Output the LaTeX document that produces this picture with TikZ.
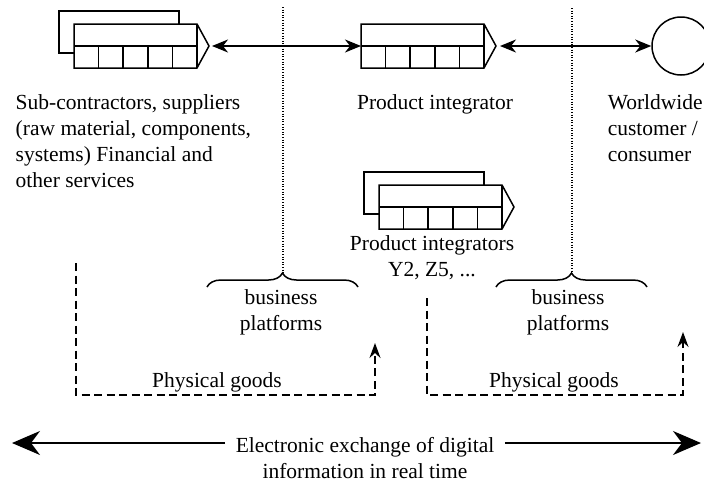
\documentclass[tikz,border=0pt]{standalone}
\usepackage{fontspec}
\setmainfont{Liberation Serif}
\usetikzlibrary{arrows.meta,decorations.pathreplacing}
\newcommand\chainbody{%
  \draw[fill=white] (0,0) -- (123,0) -- (135,22) -- (123,44) -- (0,44) -- cycle;
  \draw (123,0) -- (123,44);
  \draw (0,22) -- (123,22);
  \foreach \i in {1,...,4} \draw ({24.6*\i},22) -- ({24.6*\i},44);
  \coordinate (-in) at (0,22);
  \coordinate (-tip) at (135,22);
}
\begin{document}
\begin{tikzpicture}[x=1pt,y=-1pt,line width=1.5pt,
  txt/.style={font=\fontsize{21.5}{26}\selectfont, inner sep=0pt},
  sharrow/.style={{Stealth[length=16pt,width=13pt,inset=5pt]}-{Stealth[length=16pt,width=13pt,inset=5pt]}},
  bigarrow/.style={-{Stealth[length=28pt,width=24pt,inset=9pt]}},
  dasharrow/.style={dash pattern=on 8pt off 4.5pt,-{Stealth[length=15pt,width=11pt,inset=5pt]}},
  dotline/.style={line width=1.3pt,dash pattern=on 1pt off 1.6pt},
  bracedeco/.style={decorate,decoration={brace,amplitude=14pt}},
  chain/.pic={\chainbody},
  chainstack/.pic={\draw[fill=white] (-15,-13) rectangle (105,29); \chainbody},
]
\useasboundingbox (0,0) rectangle (704,483);

% process shapes
\pic (sup) at (74,24) {chainstack};
\pic (prod) at (361,24) {chain};
\pic (mid) at (379,185) {chainstack};
\node[circle,draw,minimum size=58pt,inner sep=0pt] (cust) at (681,46) {};

% top arrows
\draw[sharrow] ([xshift=3pt]sup-tip) -- (prod-in);
\draw[sharrow] ([xshift=4pt]prod-tip) -- (cust.west);

% texts
\node[txt,anchor=north west,align=left] (suptxt) at (15,94)
  {Sub-contractors, suppliers\\(raw material, components,\\systems) Financial and\\other services};
\node[txt,anchor=north] (prodtxt) at (435,94) {Product integrator};
\node[txt,anchor=north west,align=left] (custtxt) at (607,94) {Worldwide\\customer /\\consumer};
\node[txt,anchor=north,align=center] (midtxt) at (432,235) {Product integrators\\Y2, Z5, ...};
\node[txt,anchor=north,align=center] (bp1) at (281,289) {business\\platforms};
\node[txt,anchor=north,align=center] (bp2) at (568,289) {business\\platforms};
\node[txt,anchor=base] (pg1) at (217,387) {Physical goods};
\node[txt,anchor=base] (pg2) at (554,387) {Physical goods};
\node[txt,anchor=base] (el1) at (365,452) {Electronic exchange of digital};
\node[txt,anchor=base] (el2) at (365,478) {information in real time};

% dotted separators and braces
\coordinate (d1top) at (283,7);
\coordinate (d1tip) at (283,273);
\coordinate (d2top) at (572,8);
\coordinate (d2tip) at (572,273);
\draw[dotline] (d1top) -- (d1tip);
\draw[dotline] (d2top) -- (d2tip);
\coordinate (b1l) at (207,287);
\coordinate (b1r) at (358,287);
\coordinate (b2l) at (496,287);
\coordinate (b2r) at (647,287);
\draw[bracedeco] (b1l) -- (b1r);
\draw[bracedeco] (b2l) -- (b2r);

% physical goods flows
\coordinate (g1s) at (76,263);
\coordinate (g1e) at (375,343);
\coordinate (g2s) at (427,298);
\coordinate (g2e) at (683,332);
\draw[dasharrow] (g1s) -- (76,395) -| (g1e);
\draw[dasharrow] (g2s) -- (427,395) -| (g2e);

% electronic exchange
\coordinate (lt) at (12,443);
\coordinate (rt) at (701,443);
\draw[bigarrow] ([xshift=-10pt]el1.west |- lt) -- (lt);
\draw[bigarrow] ([xshift=10pt]el1.east |- rt) -- (rt);
\end{tikzpicture}
\end{document}
